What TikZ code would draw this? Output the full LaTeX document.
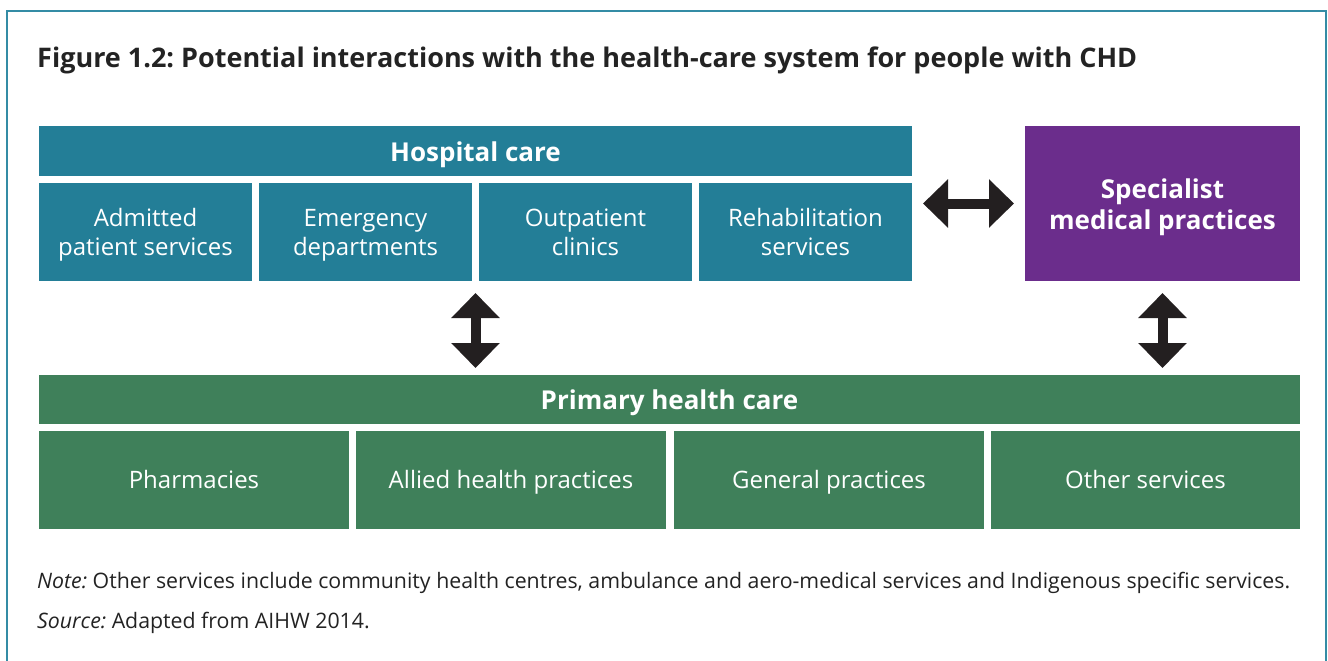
\documentclass[tikz,border=0pt]{standalone}
\usepackage{fontspec}
\setmainfont{Open Sans}
\usetikzlibrary{arrows.meta,positioning,calc}
\definecolor{hospteal}{RGB}{35,126,151}
\definecolor{frameteal}{RGB}{52,140,165}
\definecolor{specpurple}{RGB}{107,45,140}
\definecolor{primgreen}{RGB}{63,128,90}
\definecolor{arrowdark}{RGB}{35,31,32}
\definecolor{txtdark}{RGB}{35,35,35}
% struts that keep cap letters centred in the boxes
\newcommand{\boxstrut}{\rule[-6pt]{0pt}{29pt}}
\newcommand{\hdrstrut}{\rule[-5pt]{0pt}{32pt}}
% first-line struts for the two-line cells
\newcommand{\cellup}{\rule{0pt}{23pt}}
\newcommand{\hdrup}{\rule{0pt}{27pt}}
\tikzset{
  cell/.style={rectangle, text=white, inner sep=0pt, outer sep=0pt, align=center,
               font=\fontsize{24}{29}\selectfont,
               execute at begin node=\boxstrut, execute at end node=\boxstrut},
  hbox/.style={cell, fill=hospteal},
  pbox/.style={cell, fill=primgreen},
  hdr/.style={font=\bfseries\fontsize{26}{31}\selectfont,
              execute at begin node=\hdrstrut, execute at end node=\hdrstrut},
  sbox/.style={cell, hdr, fill=specpurple},
  fat/.style={{Triangle[width=47pt,length=25pt]}-{Triangle[width=47pt,length=25pt]},
              line width=10pt, draw=arrowdark},
  foot/.style={anchor=base west, inner sep=0pt, text=txtdark,
               font=\frenchspacing\fontsize{21.3}{26}\selectfont},
}

\begin{document}
\begin{tikzpicture}[x=1pt,y=-1pt]
\useasboundingbox (0,0) rectangle (1328,661);

% ================= frame and heading =================
\draw[frameteal, line width=2pt] (7,11) rectangle (1326,700);
\node[anchor=base west, inner sep=0pt, text=txtdark,
      font=\frenchspacing\bfseries\fontsize{27}{32}\selectfont]
  (title) at (37,68) {Figure 1.2: Potential interactions with the health-care system for people with CHD};

% ================= hospital care =================
\node[hbox, hdr, minimum width=873pt, minimum height=50pt] (hosp) at (475.5,151) {Hospital care};
\node[hbox, minimum width=213pt, minimum height=98pt] (admit) at (145.5,232) {\cellup Admitted\\patient services};
\node[hbox, minimum width=213pt, minimum height=98pt] (emerg) at (365.5,232) {\cellup Emergency\\departments};
\node[hbox, minimum width=213pt, minimum height=98pt] (outp)  at (585.5,232) {\cellup Outpatient\\clinics};
\node[hbox, minimum width=213pt, minimum height=98pt] (rehab) at (805.5,232) {\cellup Rehabilitation\\services};

% ================= specialist =================
\node[sbox, minimum width=275pt, minimum height=155pt] (spec) at (1162.5,203.5)
  {\hdrup Specialist\\medical practices};

% ================= primary health care =================
\node[pbox, hdr, minimum width=1261pt, minimum height=49pt] (prim) at (669.5,399.5) {Primary health care};
\node[pbox, minimum width=310pt, minimum height=98pt] (pharm) at (194,480) {Pharmacies};
\node[pbox, minimum width=310pt, minimum height=98pt] (allied) at (511,480) {Allied health practices};
\node[pbox, minimum width=310pt, minimum height=98pt] (gp) at (829,480) {General practices};
\node[pbox, minimum width=309pt, minimum height=98pt] (other) at (1145.5,480) {Other services};

% ================= interactions =================
\coordinate (gapH) at ($(emerg.south east)!0.5!(outp.south west)$);
\draw[fat, shorten <=11pt, shorten >=11pt] (spec.west) -- (spec.west -| rehab.east);
\draw[fat, shorten <=12pt, shorten >=7pt] (gapH) -- (gapH |- prim.north);
\draw[fat, shorten <=12pt, shorten >=7pt] (spec.south) -- (spec.south |- prim.north);

% ================= footnotes =================
\node[foot] (note) at (37,588)
  {\textit{Note:} Other services include community health centres, ambulance and aero-medical services and Indigenous specific services.};
\node[foot] (src) at (37,628) {\textit{Source:} Adapted from AIHW 2014.};

\end{tikzpicture}
\end{document}
